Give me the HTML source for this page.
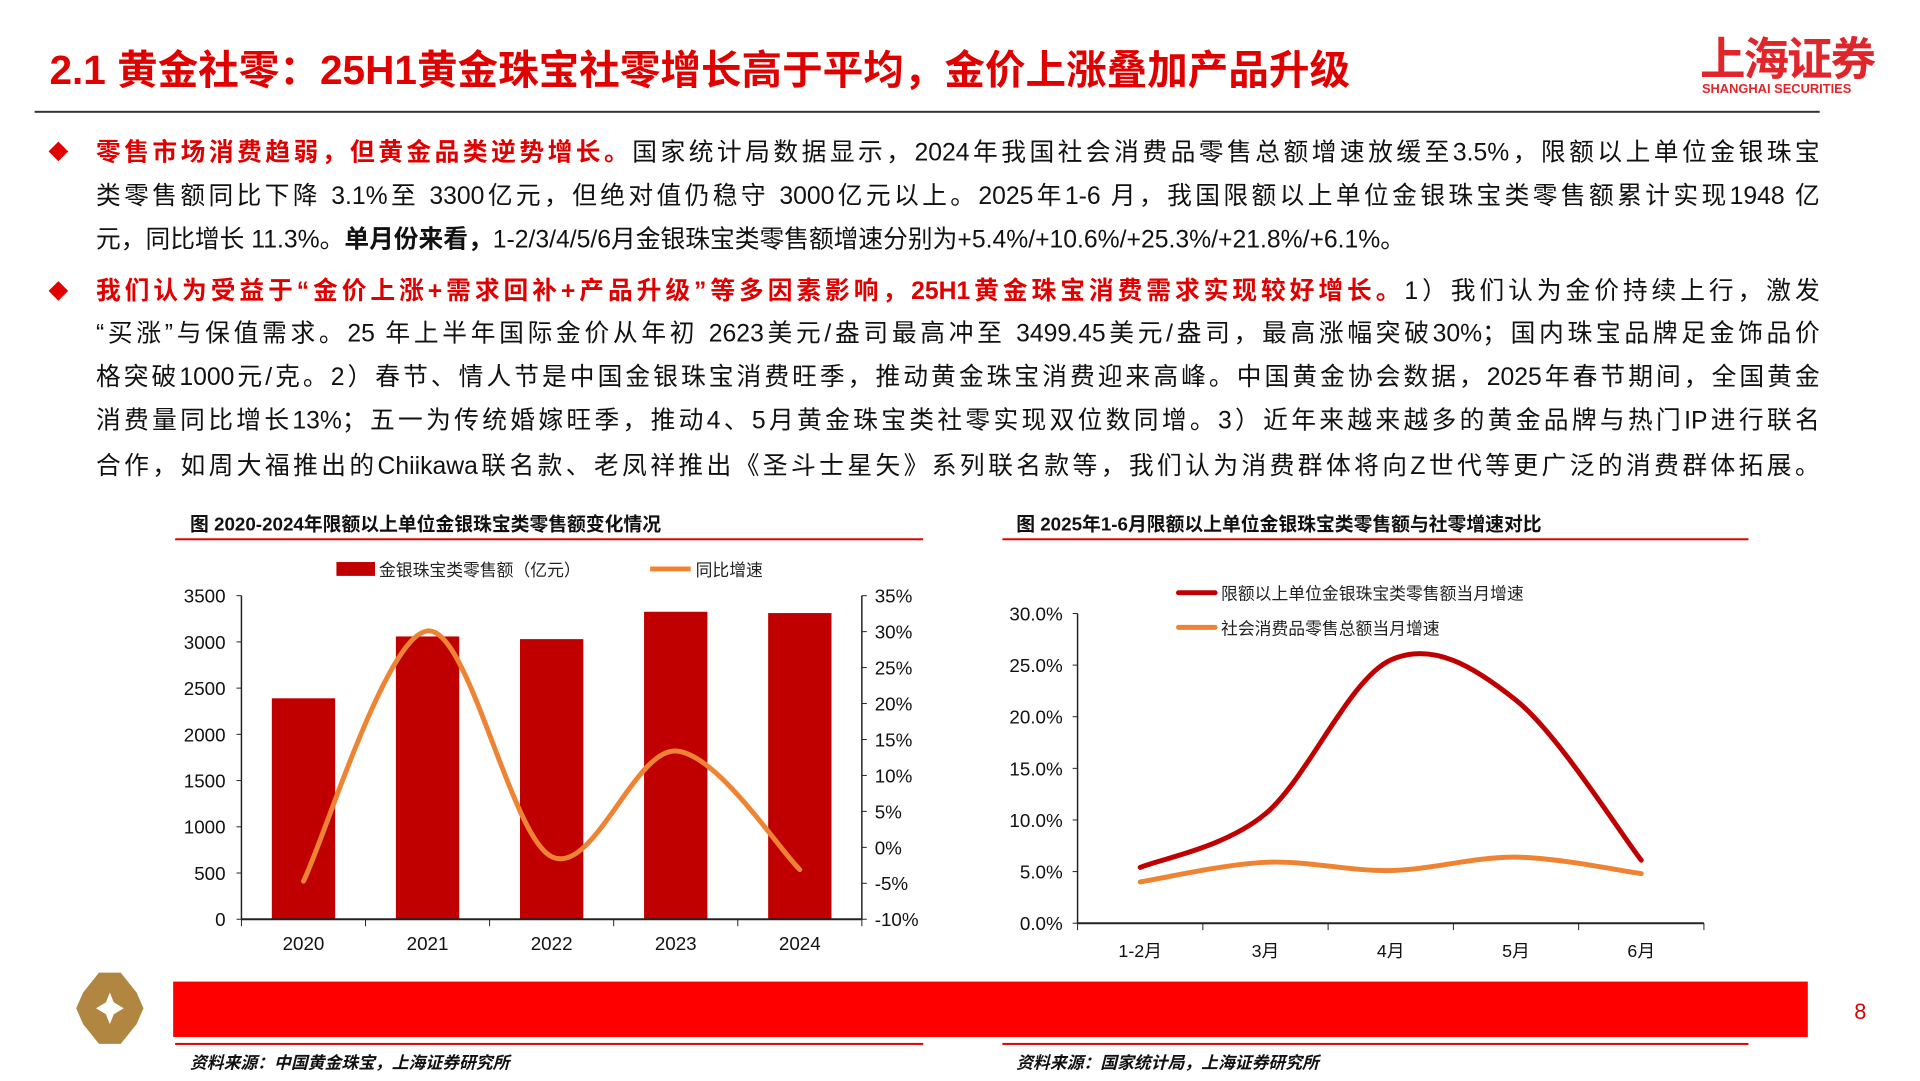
<!DOCTYPE html>
<html><head><meta charset="utf-8">
<style>
body{margin:0;width:1920px;height:1080px;overflow:hidden;background:#fff;font-family:"Liberation Sans","Noto Sans CJK SC",sans-serif;}
#wrap{position:absolute;left:0;top:0;width:1940px;height:1092px;transform:scale(0.9895);transform-origin:0 0;}
.abs{position:absolute;}
.ln{position:absolute;left:97px;width:1742px;font-size:25px;color:#111;text-align:justify;text-align-last:justify;line-height:30px;}
.r{color:#e00000;font-weight:bold;}
.b{font-weight:bold;}
svg text{font-family:"Liberation Sans","Noto Sans CJK SC",sans-serif;}
</style></head><body>
<div id="wrap">
<div class="abs" style="left:50px;top:37px;font-size:41px;font-weight:bold;color:#e00000;">2.1 黄金社零：25H1黄金珠宝社零增长高于平均，金价上涨叠加产品升级</div>
<div class="abs" style="left:1718px;top:24px;font-size:46px;font-weight:bold;color:#e0262b;letter-spacing:-2px;">上海证券</div>
<div class="abs" style="left:1720px;top:82px;font-size:13px;font-weight:bold;color:#e0262b;">SHANGHAI SECURITIES</div>
<div class="abs" style="left:35px;top:112px;width:1804px;height:2px;background:#333;"></div>

<div class="abs" style="left:52px;top:146px;width:14px;height:14px;background:#e00000;transform:rotate(45deg);"></div>
<div class="ln" style="top:139px;"><span class="r">零售市场消费趋弱，但黄金品类逆势增长。</span>国家统计局数据显示，2024年我国社会消费品零售总额增速放缓至3.5%，限额以上单位金银珠宝</div>
<div class="ln" style="top:183px;">类零售额同比下降 3.1%至 3300亿元，但绝对值仍稳守 3000亿元以上。2025年1-6 月，我国限额以上单位金银珠宝类零售额累计实现1948 亿</div>
<div class="ln" style="top:227px;text-align-last:left;">元，同比增长 11.3%。<span class="b">单月份来看，</span>1-2/3/4/5/6月金银珠宝类零售额增速分别为+5.4%/+10.6%/+25.3%/+21.8%/+6.1%。</div>

<div class="abs" style="left:52px;top:287px;width:14px;height:14px;background:#e00000;transform:rotate(45deg);"></div>
<div class="ln" style="top:279px;"><span class="r">我们认为受益于“金价上涨+需求回补+产品升级”等多因素影响，25H1黄金珠宝消费需求实现较好增长。</span>1）我们认为金价持续上行，激发</div>
<div class="ln" style="top:322px;">“买涨”与保值需求。25 年上半年国际金价从年初 2623美元/盎司最高冲至 3499.45美元/盎司，最高涨幅突破30%；国内珠宝品牌足金饰品价</div>
<div class="ln" style="top:366px;">格突破1000元/克。2）春节、情人节是中国金银珠宝消费旺季，推动黄金珠宝消费迎来高峰。中国黄金协会数据，2025年春节期间，全国黄金</div>
<div class="ln" style="top:410px;">消费量同比增长13%；五一为传统婚嫁旺季，推动4、5月黄金珠宝类社零实现双位数同增。3）近年来越来越多的黄金品牌与热门IP进行联名</div>
<div class="ln" style="top:456px;">合作，如周大福推出的Chiikawa联名款、老凤祥推出《圣斗士星矢》系列联名款等，我们认为消费群体将向Z世代等更广泛的消费群体拓展。</div>

<svg class="abs" style="left:0;top:0" width="1940" height="1092">
 <g>
  <polygon points="100,983 122,983 138,1003 145,1019 138,1035 122,1055 100,1055 84,1035 77,1019 84,1003" fill="#b08640"/>
  <polygon points="111,1003 115,1013 125,1019 115,1025 111,1035 107,1025 97,1019 107,1013" fill="#fff"/>
  <rect x="175" y="992" width="1652" height="56" fill="#ff0000"/>
  <text x="1880" y="1030" font-size="22" fill="#e00000" text-anchor="middle">8</text>
 </g>
 <g id="c1"></g>
 <g id="c2"></g>
</svg>
</div>

<script>
const years=['2020','2021','2022','2023','2024'];
const salesValues=[2390,3059,3030,3326,3312];
const yoyValues=[-4.7,30.1,-1.3,13.4,-3.1];
const leftTicks=[0,500,1000,1500,2000,2500,3000,3500];
const rightTicks=[-10,-5,0,5,10,15,20,25,30,35];
const months=['1-2月','3月','4月','5月','6月'];
const jewelryGrowth=[5.4,10.6,25.5,21.6,6.1];
const retailGrowth=[4.0,5.9,5.1,6.4,4.8];
const pctTicks=[0,5,10,15,20,25,30];

const NS='http://www.w3.org/2000/svg';
function mk(p,tag,a,txt){const e=document.createElementNS(NS,tag);for(const k in a)e.setAttribute(k,a[k]);if(txt!==undefined)e.textContent=txt;p.appendChild(e);return e;}
function smooth(pts){let d='M'+pts[0][0]+','+pts[0][1];for(let i=0;i<pts.length-1;i++){const p0=pts[Math.max(0,i-1)],p1=pts[i],p2=pts[i+1],p3=pts[Math.min(pts.length-1,i+2)];const t=6;d+=' C'+(p1[0]+(p2[0]-p0[0])/t)+','+(p1[1]+(p2[1]-p0[1])/t)+' '+(p2[0]-(p3[0]-p1[0])/t)+','+(p2[1]-(p3[1]-p1[1])/t)+' '+p2[0]+','+p2[1];}return d;}

(function(){
const g=document.getElementById('c1');
const L=244,R=871,T=602,B=929;
const yL=v=>B-(v/3500)*(B-T);
const yR=v=>B-((v+10)/45)*(B-T);
const band=(R-L)/years.length;
const xC=i=>L+band*(i+0.5);
let e;
e=mk(g,'text',{x:192,y:536,'font-size':19,'font-weight':'bold',fill:'#111'},'图 2020-2024年限额以上单位金银珠宝类零售额变化情况');

e=mk(g,'rect',{x:177,y:544,width:756,height:2,fill:'#e00000'});

e=mk(g,'rect',{x:177,y:1054,width:756,height:2,fill:'#e00000'});

e=mk(g,'text',{x:192,y:1080,'font-size':17,'font-style':'italic','font-weight':'bold',fill:'#111'},'资料来源：中国黄金珠宝，上海证券研究所');

e=mk(g,'rect',{x:340,y:568,width:39,height:14,fill:'#c00000'});

e=mk(g,'text',{x:383,y:582,'font-size':17,fill:'#222'},'金银珠宝类零售额（亿元）');

e=mk(g,'line',{x1:657,y1:575,x2:698,y2:575,stroke:'#ee8433','stroke-width':5});

e=mk(g,'text',{x:703,y:582,'font-size':17,fill:'#222'},'同比增速');

salesValues.forEach((v,i)=>{const b=mk(g,'rect',{x:xC(i)-32,y:yL(v),width:64,height:B-yL(v),fill:'#c00000'});
});
e=mk(g,'line',{x1:L,y1:T,x2:L,y2:B,stroke:'#222','stroke-width':1.5});

e=mk(g,'line',{x1:R,y1:T,x2:R,y2:B,stroke:'#222','stroke-width':1.5});

e=mk(g,'line',{x1:L,y1:B,x2:R,y2:B,stroke:'#222','stroke-width':2});

leftTicks.forEach(v=>{mk(g,'line',{x1:L-5,y1:yL(v),x2:L,y2:yL(v),stroke:'#222'});
const t=mk(g,'text',{x:L-16,y:yL(v)+7,'font-size':19,'text-anchor':'end',fill:'#111'},String(v));
});
rightTicks.forEach(v=>{mk(g,'line',{x1:R,y1:yR(v),x2:R+5,y2:yR(v),stroke:'#222'});
const t=mk(g,'text',{x:R+13,y:yR(v)+7,'font-size':19,fill:'#111'},v+'%');
});
for(let i=0;i<=years.length;i++)mk(g,'line',{x1:L+band*i,y1:B,x2:L+band*i,y2:B+7,stroke:'#222'});
years.forEach((y,i)=>{const t=mk(g,'text',{x:xC(i),y:B+31,'font-size':19,'text-anchor':'middle',fill:'#111'},y);
});
const ln=mk(g,'path',{d:smooth(yoyValues.map((v,i)=>[xC(i),yR(v)])),fill:'none',stroke:'#ee8433','stroke-width':5,'stroke-linecap':'round'});

})();

(function(){
const g=document.getElementById('c2');
const L=1089,R=1722,T=620,B=933;
const y=v=>B-(v/30)*(B-T);
const band=(R-L)/months.length;
const xC=i=>L+band*(i+0.5);
let e;
e=mk(g,'text',{x:1027,y:536,'font-size':19,'font-weight':'bold',fill:'#111'},'图 2025年1-6月限额以上单位金银珠宝类零售额与社零增速对比');

e=mk(g,'rect',{x:1013,y:544,width:754,height:2,fill:'#e00000'});

e=mk(g,'rect',{x:1013,y:1054,width:754,height:2,fill:'#e00000'});

e=mk(g,'text',{x:1027,y:1080,'font-size':17,'font-style':'italic','font-weight':'bold',fill:'#111'},'资料来源：国家统计局，上海证券研究所');

e=mk(g,'line',{x1:1191,y1:599,x2:1228,y2:599,stroke:'#c00000','stroke-width':5,'stroke-linecap':'round'});

e=mk(g,'text',{x:1234,y:606,'font-size':17,fill:'#222'},'限额以上单位金银珠宝类零售额当月增速');

e=mk(g,'line',{x1:1191,y1:634,x2:1228,y2:634,stroke:'#ee8433','stroke-width':5,'stroke-linecap':'round'});

e=mk(g,'text',{x:1234,y:641,'font-size':17,fill:'#222'},'社会消费品零售总额当月增速');

e=mk(g,'line',{x1:L,y1:T,x2:L,y2:B,stroke:'#222','stroke-width':1.5});

e=mk(g,'line',{x1:L,y1:B,x2:R,y2:B,stroke:'#222','stroke-width':2});

pctTicks.forEach(v=>{mk(g,'line',{x1:L-5,y1:y(v),x2:L,y2:y(v),stroke:'#222'});
const t=mk(g,'text',{x:L-15,y:y(v)+7,'font-size':19,'text-anchor':'end',fill:'#111'},v.toFixed(1)+'%');
});
for(let i=0;i<=months.length;i++)mk(g,'line',{x1:L+band*i,y1:B,x2:L+band*i,y2:B+7,stroke:'#222'});
months.forEach((m,i)=>{const t=mk(g,'text',{x:xC(i),y:B+34,'font-size':18,'text-anchor':'middle',fill:'#111'},m);
});
const l1=mk(g,'path',{d:smooth(jewelryGrowth.map((v,i)=>[xC(i),y(v)])),fill:'none',stroke:'#c00000','stroke-width':5,'stroke-linecap':'round'});

const l2=mk(g,'path',{d:smooth(retailGrowth.map((v,i)=>[xC(i),y(v)])),fill:'none',stroke:'#ee8433','stroke-width':5,'stroke-linecap':'round'});

})();
</script>
</body></html>
